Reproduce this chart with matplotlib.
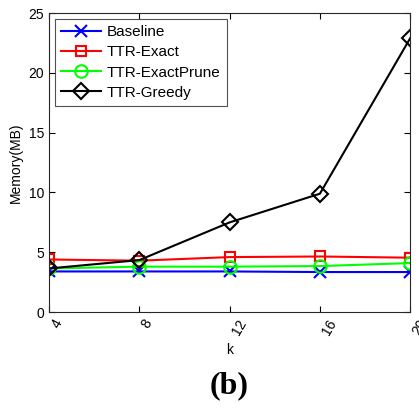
import matplotlib
matplotlib.use('Agg')
import matplotlib.pyplot as plt

plt.rcParams['font.family'] = 'Liberation Sans'

k = [4, 8, 12, 16, 20]
baseline = [3.4, 3.4, 3.4, 3.35, 3.35]
ttr_exact = [4.4, 4.3, 4.6, 4.65, 4.55]
ttr_exact_prune = [3.65, 3.8, 3.8, 3.85, 4.1]
ttr_greedy = [3.65, 4.35, 7.5, 9.9, 22.9]

fig = plt.figure(figsize=(4.19, 4.08), dpi=100)
ax = fig.add_axes([0.117, 0.235, 0.862, 0.733])

ax.plot(k, baseline, 'x-', color='blue', lw=1.5, ms=8, mew=1.5, mfc='none', label='Baseline')
ax.plot(k, ttr_exact, 's-', color='red', lw=1.5, ms=7.5, mew=1.5, mfc='none', label='TTR-Exact')
ax.plot(k, ttr_exact_prune, 'o-', color='#00ff00', lw=1.5, ms=9, mew=1.5, mfc='none', label='TTR-ExactPrune')
ax.plot(k, ttr_greedy, 'D-', color='black', lw=1.5, ms=8, mew=1.5, mfc='none', label='TTR-Greedy')

ax.set_xlim(4, 20)
ax.set_ylim(0, 25)
ax.set_xticks(k)
ax.set_xticklabels([str(v) for v in k], rotation=60, ha='left', va='top')
ax.set_yticks([0, 5, 10, 15, 20, 25])
ax.tick_params(direction='in', top=True, right=True, labelsize=10, length=4)
for s in ax.spines.values():
    s.set_linewidth(0.8)
    s.set_color('#262626')

ax.set_xlabel('k', fontsize=10, labelpad=4)
ax.set_ylabel('Memory(MB)', fontsize=10)

leg = ax.legend(loc='upper left', fontsize=11, fancybox=False, edgecolor='#262626',
                handlelength=2.6, borderaxespad=0.4, labelspacing=0.4, handletextpad=0.4)
leg.get_frame().set_linewidth(0.8)

# panel label under the axes
fig.text(0.547, 0.018, '(b)', ha='center', va='bottom', fontsize=23, fontweight='bold',
         family='Liberation Serif')

fig.savefig('out.png', dpi=100)
